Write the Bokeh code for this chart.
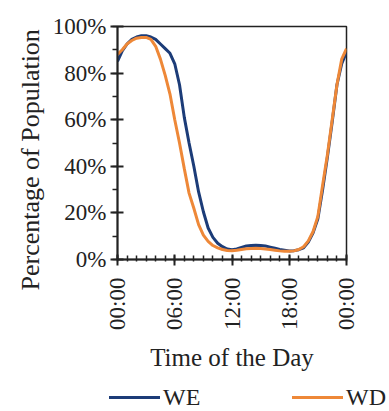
import math
from bokeh.plotting import figure
from bokeh.layouts import column
from bokeh.models import Range1d, FixedTicker, Title, Div
from bokeh.embed import file_html
from bokeh.resources import INLINE

# Time of day in hours (half-hour steps)
hours = [i * 0.5 for i in range(49)]

# Percentage of population (weekend)
we = [85, 89.5, 92.5, 94.5, 95.5, 96, 96, 95.5, 94.5, 92.5,
      90.5, 88.5, 84, 75, 61, 50, 40, 29, 20.5, 13.5,
      9.5, 7, 5.5, 4.5, 4.2, 4.5, 5.2, 5.8, 6, 6.1,
      6, 5.8, 5.3, 4.8, 4.3, 4, 3.7, 3.8, 4.2, 5,
      7.5, 11.5, 17.5, 30, 44, 59, 75, 84, 89]

# Percentage of population (weekday)
wd = [88, 90, 92.5, 94, 95, 95.3, 95.3, 94.5, 91.5, 86,
      79, 71, 60, 50, 39, 28.5, 22, 15, 10.5, 7.8,
      6, 5, 4.3, 3.9, 3.8, 4, 4.3, 4.6, 4.7, 4.8,
      4.7, 4.5, 4.3, 4, 3.7, 3.5, 3.5, 3.7, 4.3, 5.5,
      8, 12, 18.5, 32, 45, 60, 75, 86, 90.5]

x_ticks = [0, 6, 12, 18, 24]
x_tick_labels = ["00:00", "06:00", "12:00", "18:00", "00:00"]
y_ticks = [0, 20, 40, 60, 80, 100]
y_tick_labels = ["0%", "20%", "40%", "60%", "80%", "100%"]

series_names = ["WE", "WD"]
colors = ["#1c3c78", "#ee8838"]

FONT = "Liberation Serif"

p = figure(frame_width=229, frame_height=233,
           min_border_left=117, min_border_right=43,
           min_border_top=26, min_border_bottom=121,
           x_range=Range1d(0, 24), y_range=Range1d(0, 100),
           output_backend="svg", toolbar_location=None)

p.grid.visible = False
p.outline_line_color = "#222222"
p.outline_line_width = 1.5
p.background_fill_color = "white"
p.border_fill_color = "white"

p.xaxis.ticker = FixedTicker(ticks=x_ticks, minor_ticks=list(range(25)))
p.xaxis.major_label_overrides = {t: l for t, l in zip(x_ticks, x_tick_labels)}
p.xaxis.major_label_orientation = math.pi / 2
p.yaxis.ticker = FixedTicker(ticks=y_ticks, minor_ticks=list(range(0, 101, 10)))
p.yaxis.major_label_overrides = {t: l for t, l in zip(y_ticks, y_tick_labels)}

for ax in (p.xaxis[0], p.yaxis[0]):
    ax.axis_line_color = "#222222"
    ax.axis_line_width = 2
    ax.major_tick_line_color = "#222222"
    ax.major_tick_line_width = 2
    ax.minor_tick_line_color = "#222222"
    ax.minor_tick_line_width = 1.5
    ax.major_label_text_font = FONT
    ax.major_label_text_font_size = "23px"
    ax.major_label_text_color = "#222222"
    ax.axis_label_text_font = FONT
    ax.axis_label_text_font_size = "25px"
    ax.axis_label_text_font_style = "normal"
    ax.axis_label_text_color = "#222222"

p.xaxis.major_tick_in = 5
p.xaxis.major_tick_out = 6
p.xaxis.minor_tick_in = 4
p.xaxis.minor_tick_out = 2
p.xaxis.major_label_standoff = 12
p.xaxis.axis_label = "Time of the Day"
p.xaxis.axis_label_standoff = 11

p.yaxis.major_tick_in = 6
p.yaxis.major_tick_out = 7
p.yaxis.minor_tick_in = 0
p.yaxis.minor_tick_out = 5
p.yaxis.major_label_standoff = 4

ytitle = Title(text="Percentage of Population", align="left", offset=-31,
               text_font=FONT, text_font_size="26px", text_font_style="normal",
               text_color="#222222")
p.add_layout(ytitle, "left")

p.line(hours, we, line_color=colors[0], line_width=3)
p.line(hours, wd, line_color=colors[1], line_width=3)

# Legend strip below the chart
swatch_left = [109, 292]
items_html = ""
for name, col, left in zip(series_names, colors, swatch_left):
    items_html += (
        f'<span style="position:absolute;left:{left}px;top:16px;width:51px;'
        f'height:0;border-top:3px solid {col};"></span>'
        f'<span style="position:absolute;left:{left + 54}px;top:2px;'
        f'line-height:30px;white-space:nowrap;">{name}</span>'
    )
legend_div = Div(
    text=(f'<div style="position:relative;width:389px;height:30px;'
          f"font-family:'{FONT}';font-size:24px;color:#222222;\">"
          f'{items_html}</div>'),
    width=389, height=30, margin=0)

layout = column(p, legend_div, spacing=0)
open("out.html", "w").write(file_html(layout, INLINE))
